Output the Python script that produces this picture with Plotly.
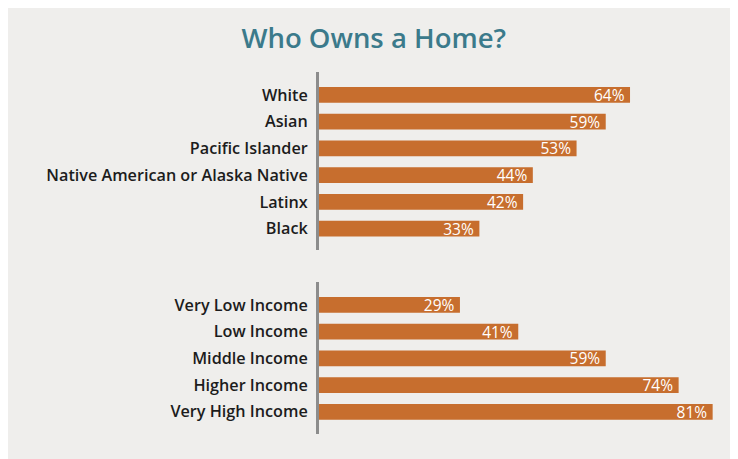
import plotly.graph_objects as go
from plotly.subplots import make_subplots

race_labels = ["White", "Asian", "Pacific Islander", "Native American or Alaska Native", "Latinx", "Black"]
race_values = [64, 59, 53, 44, 42, 33]
income_labels = ["Very Low Income", "Low Income", "Middle Income", "Higher Income", "Very High Income"]
income_values = [29, 41, 59, 74, 81]

BAR = "#c76e2e"
BG = "#efeeec"
FONT = "Open Sans"

fig = make_subplots(rows=2, cols=1, shared_xaxes=False, vertical_spacing=0.0)

for row, (labs, vals) in enumerate([(race_labels, race_values), (income_labels, income_values)], start=1):
    fig.add_trace(go.Bar(
        x=vals, y=labs, orientation="h",
        marker=dict(color=BAR, line=dict(width=0)),
        width=0.59,
        text=[f"{v}%\u2009" for v in vals],
        textposition="inside", insidetextanchor="end", constraintext="none",
        textfont=dict(family=FONT, size=15.5, color="white", weight=500),
        cliponaxis=False, showlegend=False, hoverinfo="skip",
    ), row=row, col=1)

fig.update_xaxes(range=[0, 84.57], visible=False, showgrid=False, zeroline=False)
common_y = dict(type="category", showgrid=False, zeroline=False, showline=True,
                linecolor="#8c8c8c", linewidth=3, ticks="outside", ticklen=5,
                tickcolor="rgba(0,0,0,0)",
                tickfont=dict(family=FONT, size=16.2, color="#1c1c1c", weight=600))
fig.update_layout(
    yaxis=dict(domain=[0.508, 1.0], range=[5.805, -0.86], **common_y),
    yaxis2=dict(domain=[0.0, 0.42], range=[4.83, -0.86], **common_y),
)

fig.update_layout(
    width=730, height=451,
    margin=dict(l=311, r=8, t=64, b=25),
    paper_bgcolor=BG, plot_bgcolor="rgba(0,0,0,0)",
    title=dict(text="Who Owns a Home?", x=0.501, xanchor="center",
               y=0.933, yanchor="middle", yref="container",
               font=dict(family=FONT, size=27.5, color="#3b7a8b", weight=600)),
)

fig.write_html("out.html")
